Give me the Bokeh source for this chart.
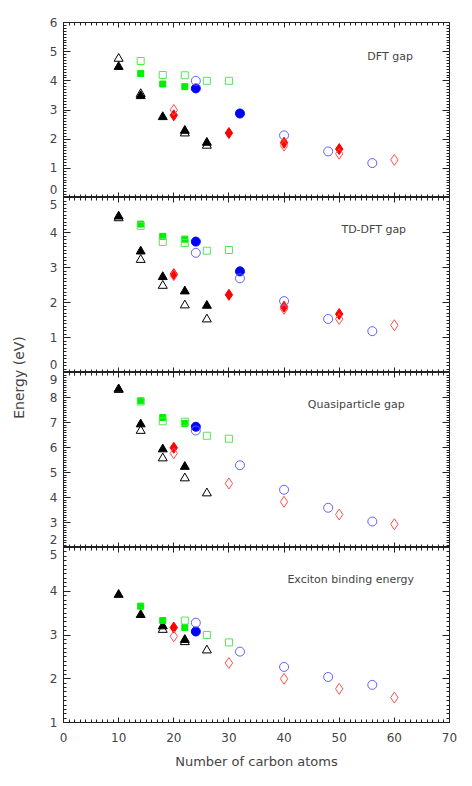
from bokeh.plotting import figure
from bokeh.layouts import column, row
from bokeh.models import (Range1d, SingleIntervalTicker, LinearAxis, Label,
                          CustomLabelingPolicy)
from bokeh.embed import file_html
from bokeh.resources import INLINE
import math

# ---------------- data (carbon atoms, energy in eV) ----------------
# Panel 1: DFT gap
dft_tri_f_x = [10, 14, 18, 22, 26]
dft_tri_f_y = [4.48, 3.48, 2.76, 2.29, 1.88]
dft_tri_o_x = [10, 14, 22, 26]
dft_tri_o_y = [4.76, 3.55, 2.20, 1.78]
dft_sq_f_x = [14, 18, 22]
dft_sq_f_y = [4.25, 3.89, 3.80]
dft_sq_o_x = [14, 18, 22, 26, 30]
dft_sq_o_y = [4.68, 4.20, 4.19, 4.00, 4.00]
dft_ci_f_x = [24, 32]
dft_ci_f_y = [3.74, 2.88]
dft_ci_o_x = [24, 40, 48, 56]
dft_ci_o_y = [4.00, 2.13, 1.58, 1.18]
dft_di_f_x = [20, 30, 40, 50]
dft_di_f_y = [2.82, 2.21, 1.88, 1.66]
dft_di_o_x = [20, 40, 50, 60]
dft_di_o_y = [3.00, 1.78, 1.50, 1.29]

# Panel 2: TD-DFT gap
td_tri_f_x = [10, 14, 18, 22, 26]
td_tri_f_y = [4.46, 3.46, 2.73, 2.32, 1.91]
td_tri_o_x = [10, 14, 18, 22, 26]
td_tri_o_y = [4.41, 3.22, 2.48, 1.92, 1.52]
td_sq_f_x = [14, 18, 22]
td_sq_f_y = [4.24, 3.89, 3.81]
td_sq_o_x = [14, 18, 22, 26, 30]
td_sq_o_y = [4.19, 3.73, 3.70, 3.48, 3.50]
td_ci_f_x = [24, 32]
td_ci_f_y = [3.74, 2.89]
td_ci_o_x = [24, 32, 40, 48, 56]
td_ci_o_y = [3.42, 2.69, 2.04, 1.53, 1.18]
td_di_f_x = [20, 30, 40, 50]
td_di_f_y = [2.81, 2.22, 1.88, 1.67]
td_di_o_x = [20, 40, 50, 60]
td_di_o_y = [2.78, 1.82, 1.53, 1.35]

# Panel 3: Quasiparticle gap
qp_tri_f_x = [10, 14, 18, 22]
qp_tri_f_y = [8.33, 6.93, 5.93, 5.23]
qp_tri_o_x = [10, 14, 18, 22, 26]
qp_tri_o_y = [8.31, 6.67, 5.57, 4.77, 4.17]
qp_sq_f_x = [14, 18, 22]
qp_sq_f_y = [7.87, 7.20, 6.96]
qp_sq_o_x = [14, 18, 22, 26, 30]
qp_sq_o_y = [7.84, 7.05, 7.03, 6.47, 6.35]
qp_ci_f_x = [24]
qp_ci_f_y = [6.83]
qp_ci_o_x = [24, 32, 40, 48, 56]
qp_ci_o_y = [6.68, 5.29, 4.31, 3.59, 3.04]
qp_di_f_x = [20]
qp_di_f_y = [5.99]
qp_di_o_x = [20, 30, 40, 50, 60]
qp_di_o_y = [5.77, 4.56, 3.83, 3.32, 2.93]

# Panel 4: Exciton binding energy
ex_tri_f_x = [10, 14, 18, 22]
ex_tri_f_y = [3.92, 3.46, 3.20, 2.89]
ex_tri_o_x = [18, 22, 26]
ex_tri_o_y = [3.12, 2.84, 2.65]
ex_sq_f_x = [14, 18, 22]
ex_sq_f_y = [3.66, 3.33, 3.17]
ex_sq_o_x = [22, 26, 30]
ex_sq_o_y = [3.33, 3.00, 2.83]
ex_ci_f_x = [24]
ex_ci_f_y = [3.08]
ex_ci_o_x = [24, 32, 40, 48, 56]
ex_ci_o_y = [3.28, 2.62, 2.27, 2.04, 1.86]
ex_di_f_x = [20]
ex_di_f_y = [3.17]
ex_di_o_x = [20, 30, 40, 50, 60]
ex_di_o_y = [2.97, 2.36, 2.00, 1.77, 1.57]

panel_titles = ["DFT gap", "TD-DFT gap", "Quasiparticle gap", "Exciton binding energy"]
y_limits = [(0, 6), (0, 5), (2, 9), (1, 5)]
title_pos = [(55.1, 4.83), (50.4, 4.09), (44.3, 7.72), (40.6, 4.27)]
x_limits = (0, 70)
x_title = "Number of carbon atoms"
y_title = "Energy (eV)"

panels_data = [
    dict(tri_f=(dft_tri_f_x, dft_tri_f_y), tri_o=(dft_tri_o_x, dft_tri_o_y),
         sq_f=(dft_sq_f_x, dft_sq_f_y), sq_o=(dft_sq_o_x, dft_sq_o_y),
         ci_f=(dft_ci_f_x, dft_ci_f_y), ci_o=(dft_ci_o_x, dft_ci_o_y),
         di_f=(dft_di_f_x, dft_di_f_y), di_o=(dft_di_o_x, dft_di_o_y)),
    dict(tri_f=(td_tri_f_x, td_tri_f_y), tri_o=(td_tri_o_x, td_tri_o_y),
         sq_f=(td_sq_f_x, td_sq_f_y), sq_o=(td_sq_o_x, td_sq_o_y),
         ci_f=(td_ci_f_x, td_ci_f_y), ci_o=(td_ci_o_x, td_ci_o_y),
         di_f=(td_di_f_x, td_di_f_y), di_o=(td_di_o_x, td_di_o_y)),
    dict(tri_f=(qp_tri_f_x, qp_tri_f_y), tri_o=(qp_tri_o_x, qp_tri_o_y),
         sq_f=(qp_sq_f_x, qp_sq_f_y), sq_o=(qp_sq_o_x, qp_sq_o_y),
         ci_f=(qp_ci_f_x, qp_ci_f_y), ci_o=(qp_ci_o_x, qp_ci_o_y),
         di_f=(qp_di_f_x, qp_di_f_y), di_o=(qp_di_o_x, qp_di_o_y)),
    dict(tri_f=(ex_tri_f_x, ex_tri_f_y), tri_o=(ex_tri_o_x, ex_tri_o_y),
         sq_f=(ex_sq_f_x, ex_sq_f_y), sq_o=(ex_sq_o_x, ex_sq_o_y),
         ci_f=(ex_ci_f_x, ex_ci_f_y), ci_o=(ex_ci_o_x, ex_ci_o_y),
         di_f=(ex_di_f_x, ex_di_f_y), di_o=(ex_di_o_x, ex_di_o_y)),
]

# ---------------- styles ----------------
FONT = "DejaVu Sans"
TXT = "#444444"
AX = "#222222"
styles = {
    "tri_f": dict(marker="triangle", size=9, fill_color="black", line_color="black"),
    "sq_f": dict(marker="square", size=6, fill_color="#00ee00", line_color="#00ee00"),
    "ci_f": dict(marker="circle", size=9, fill_color="#0000ff", line_color="#0000ff"),
    "di_f": dict(marker="diamond", size=11, fill_color="#ff0000", line_color="#ff0000"),
    "tri_o": dict(marker="triangle", size=9, fill_color=None, line_color="black"),
    "sq_o": dict(marker="square", size=7, fill_color=None, line_color="#55e855"),
    "ci_o": dict(marker="circle", size=9, fill_color=None, line_color="#6060ff"),
    "di_o": dict(marker="diamond", size=11, fill_color=None, line_color="#ff5050"),
}
order = ["tri_f", "sq_f", "ci_f", "di_f", "tri_o", "sq_o", "ci_o", "di_o"]

FRAME_W, FRAME_H = 386, 175
TOP_BORDER, BOTTOM_BORDER = 22, 50
LEFT_BORDER, RIGHT_BORDER = 25, 10
LABEL_W = 38
TICK_FONT = "12px"


def hide_policy():
    return CustomLabelingPolicy(code="""
        for (const i of [...indices]) { indices.unset(i) }
        return indices
    """)


def style_axis(ax, labels):
    ax.axis_line_color = AX
    ax.major_tick_line_color = AX
    ax.minor_tick_line_color = AX
    ax.major_tick_out = 0
    ax.minor_tick_out = 0
    ax.major_label_text_font = FONT
    ax.major_label_text_color = TXT
    ax.axis_label_text_font = FONT
    ax.axis_label_text_color = TXT
    ax.axis_label_text_font_style = "normal"
    if labels:
        ax.major_label_text_font_size = TICK_FONT
    else:
        ax.major_label_policy = hide_policy()
        ax.major_label_text_font_size = "0px"
        ax.major_label_standoff = 0


n = len(panels_data)
panels = []
for i, data in enumerate(panels_data):
    first, last = i == 0, i == n - 1
    y0, y1 = y_limits[i]
    p = figure(frame_width=FRAME_W, frame_height=FRAME_H,
               x_range=Range1d(*x_limits), y_range=Range1d(y0, y1),
               x_axis_location=None, y_axis_location=None,
               output_backend="svg", toolbar_location=None,
               min_border_left=LEFT_BORDER, min_border_right=RIGHT_BORDER,
               min_border_top=TOP_BORDER if first else 0,
               min_border_bottom=BOTTOM_BORDER if last else 0)
    p.grid.visible = False
    p.outline_line_color = AX

    ax = LinearAxis(ticker=SingleIntervalTicker(interval=1, num_minor_ticks=10))
    style_axis(ax, True)
    ax.major_tick_in = 7
    ax.minor_tick_in = 3
    ax.major_label_standoff = 6
    ax.major_label_text_line_height = 0.05
    # labels at edges shared with a neighbouring panel sit on this panel's side of the edge
    overrides = {}
    if not first:
        overrides[y1] = "\u00a0\n" + str(y1)
    if not last:
        overrides[y0] = str(y0) + "\n\u00a0"
    ax.major_label_overrides = overrides
    p.add_layout(ax, "left")

    ax = LinearAxis(ticker=SingleIntervalTicker(interval=1, num_minor_ticks=10))
    style_axis(ax, False)
    ax.major_tick_in = 7
    ax.minor_tick_in = 3
    p.add_layout(ax, "right")

    for side in ("above", "below"):
        ax = LinearAxis(ticker=SingleIntervalTicker(interval=10, num_minor_ticks=10))
        show = side == "below" and last
        style_axis(ax, show)
        ax.major_tick_in = 5
        ax.minor_tick_in = 3
        if show:
            ax.major_label_standoff = 10
            ax.axis_label = x_title
            ax.axis_label_text_font_size = "13px"
            ax.axis_label_standoff = 9
        p.add_layout(ax, side)

    for key in order:
        xs, ys = data[key]
        p.scatter(xs, ys, line_width=1, **styles[key])

    tx, ty = title_pos[i]
    p.add_layout(Label(x=tx, y=ty, text=panel_titles[i], text_font=FONT,
                       text_font_size="11px", text_color=TXT, text_baseline="middle"))
    panels.append(p)

total_h = TOP_BORDER + n * FRAME_H + BOTTOM_BORDER
lab = figure(width=LABEL_W, height=total_h, x_range=Range1d(0, LABEL_W), y_range=Range1d(0, total_h),
             x_axis_location=None, y_axis_location=None, output_backend="svg",
             toolbar_location=None, min_border=0)
lab.grid.visible = False
lab.outline_line_color = None
lab.add_layout(Label(x=18, y=total_h - 377, text=y_title, angle=math.pi / 2,
                     text_align="center", text_baseline="middle", text_font=FONT,
                     text_font_size="14px", text_color=TXT))

layout = row(lab, column(*panels, spacing=0), spacing=0)
open("out.html", "w").write(file_html(layout, INLINE))
